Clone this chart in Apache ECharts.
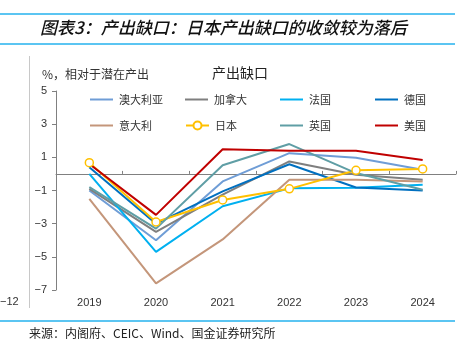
<!DOCTYPE html>
<html>
<head>
<meta charset="utf-8">
<script src="https://cdn.jsdelivr.net/npm/echarts@6/dist/echarts.min.js"></script>
<style>
  html, body { margin: 0; padding: 0; background: #fff; }
  #chart { width: 460px; height: 348px; }
</style>
</head>
<body>
<div id="chart"></div>
<script>
// Output gap, % of potential output
const years = ['2019', '2020', '2021', '2022', '2023', '2024'];
const yTicks = [-7, -5, -3, -1, 1, 3, 5];

const australia = [-1.0, -4.0, -0.45, 1.25, 0.98, 0.25];
const canada    = [-0.9, -3.5, -1.25, 0.75, -0.05, -0.35];
const france    = [0.0, -4.7, -1.95, -0.87, -0.83, -0.65];
const germany   = [0.4, -3.0, -1.05, 0.58, -0.82, -1.0];
const italy     = [-1.5, -6.6, -3.95, -0.35, -0.35, -0.45];
const japan     = [0.68, -2.9, -1.57, -0.9, 0.22, 0.3];
const uk        = [-0.8, -3.3, 0.52, 1.8, 0.05, -0.95];
const us        = [0.6, -2.47, 1.49, 1.4, 1.4, 0.84];

const seriesDefs = [
  { name: '澳大利亚', data: australia, color: '#6f9dd6' },
  { name: '加拿大',   data: canada,    color: '#7f7f7f' },
  { name: '法国',     data: france,    color: '#00b0f0' },
  { name: '德国',     data: germany,   color: '#0070c0' },
  { name: '意大利',   data: italy,     color: '#c4967a' },
  { name: '日本',     data: japan,     color: '#ffc000', marker: true },
  { name: '英国',     data: uk,        color: '#5f9ea5' },
  { name: '美国',     data: us,        color: '#c00000' }
];

const cjk = '"Noto Sans CJK SC", "Noto Sans", sans-serif';
const latin = '"Liberation Sans", Arial, sans-serif';

// legend: 4 columns x 2 rows, one component per entry
const legendCols = [85, 180, 275, 370];
const legendRows = [89, 115];
const legends = seriesDefs.map((s, i) => {
  const lg = {
    data: [s.name],
    left: legendCols[i % 4],
    top: legendRows[Math.floor(i / 4)],
    itemWidth: 23,
    itemHeight: s.marker ? 10 : 2,
    itemGap: 4,
    textStyle: { fontFamily: cjk, fontSize: 11, color: '#333', padding: [0, 0, 0, 1] },
    selectedMode: false
  };
  if (!s.marker) lg.icon = 'rect';
  return lg;
});

const chart = echarts.init(document.getElementById('chart'), null, { renderer: 'canvas' });
chart.setOption({
  animation: false,
  backgroundColor: '#fff',
  grid: { left: 56, right: 4, top: 91, bottom: 58, containLabel: false },
  legend: legends,
  xAxis: [
    {
      type: 'category',
      data: years,
      position: 'bottom',
      axisLine: { show: false, onZero: false },
      axisTick: { show: false },
      axisLabel: { fontFamily: latin, fontSize: 11, color: '#333', margin: 7 }
    },
    {
      type: 'category',
      data: years,
      position: 'bottom',
      axisLine: { show: true, onZero: true, lineStyle: { color: '#808080', width: 1 } },
      axisTick: { show: true, inside: true, length: 3, lineStyle: { color: '#808080' } },
      axisLabel: { show: false }
    }
  ],
  yAxis: {
    type: 'value',
    min: yTicks[0],
    max: yTicks[yTicks.length - 1],
    interval: 2,
    axisLine: { show: true, lineStyle: { color: '#808080' } },
    axisTick: { show: true, length: 4, lineStyle: { color: '#808080' } },
    splitLine: { show: false },
    axisLabel: {
      fontFamily: latin, fontSize: 11, color: '#333', margin: 9,
      formatter: v => String(v).replace('-', '\u2212')
    }
  },
  series: seriesDefs.map(s => ({
    name: s.name,
    type: 'line',
    xAxisIndex: 0,
    data: s.data,
    color: s.color,
    lineStyle: { width: 2, color: s.color },
    symbol: s.marker ? 'circle' : 'none',
    symbolSize: 8,
    showSymbol: !!s.marker,
    itemStyle: s.marker ? { color: '#fff', borderColor: s.color, borderWidth: 1.5 } : { color: s.color },
    emphasis: { disabled: true }
  })),
  graphic: [
    { type: 'line', shape: { x1: 0, y1: 14, x2: 455, y2: 14 }, style: { stroke: '#5bc5f2', lineWidth: 2 } },
    { type: 'line', shape: { x1: 0, y1: 44, x2: 455, y2: 44 }, style: { stroke: '#5bc5f2', lineWidth: 2 } },
    { type: 'text', left: 40, top: 19, style: {
        text: '图表3：产出缺口：日本产出缺口的收敛较为落后',
        font: 'italic 500 17px ' + cjk, fill: '#111' } },
    { type: 'line', shape: { x1: 29.5, y1: 56, x2: 29.5, y2: 308 }, style: { stroke: '#c8c8c8', lineWidth: 1 } },
    { type: 'text', left: 0, top: 296, style: { text: '\u221212', font: '11px ' + latin, fill: '#333' } },
    { type: 'text', left: 42, top: 68, style: { text: '%，相对于潜在产出', font: '12px ' + cjk, fill: '#333' } },
    { type: 'text', left: 212, top: 66, style: { text: '产出缺口', font: '14px ' + cjk, fill: '#222' } },
    { type: 'line', shape: { x1: 0, y1: 321, x2: 455, y2: 321 }, style: { stroke: '#5bc5f2', lineWidth: 2 } },
    { type: 'text', left: 29, top: 327, style: {
        text: '来源：内阁府、CEIC、Wind、国金证券研究所', font: '12px ' + cjk, fill: '#222' } }
  ]
});
</script>
</body>
</html>
